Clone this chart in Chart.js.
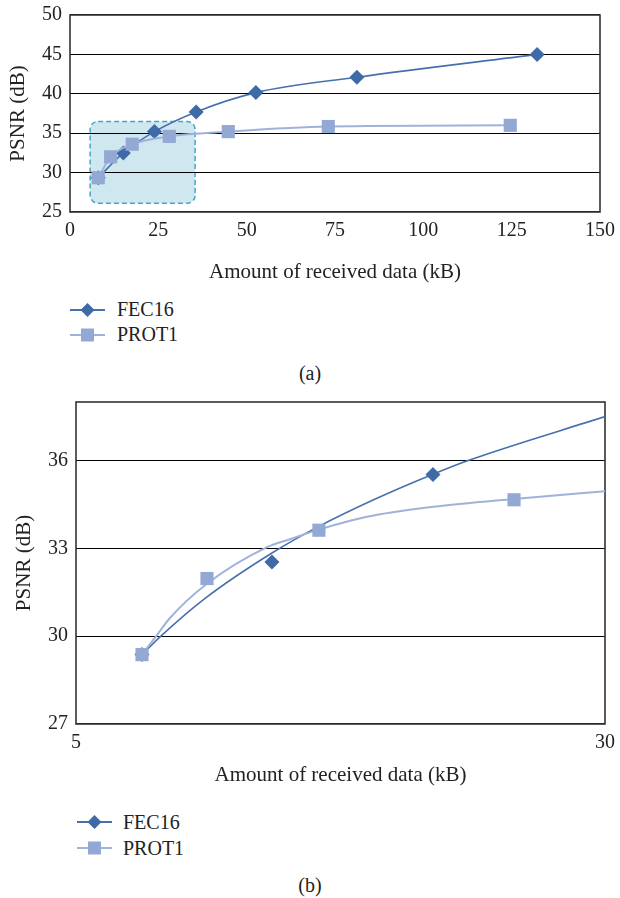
<!DOCTYPE html>
<html>
<head>
<meta charset="utf-8">
<script src="https://cdn.jsdelivr.net/npm/chart.js@4.4.1/dist/chart.umd.min.js"></script>
<style>
  html, body { margin:0; padding:0; background:#fff; }
  #wrap { position:relative; width:620px; height:898px; font-family:'Liberation Serif', serif; color:#222; }
  .box { position:absolute; left:0; width:620px; }
  .legend { position:absolute; font-size:20px; }
  .row { display:flex; align-items:center; height:25px; }
  .row svg { display:block; }
  .cap { position:absolute; left:0; width:620px; text-align:center; font-size:20px; height:24px; line-height:24px; }
</style>
</head>
<body>
<div id="wrap">
  <div class="box" style="top:0;height:289px;"><canvas id="c1"></canvas></div>
  <div class="legend" id="lg1" style="left:70px;top:297px;"></div>
  <div class="cap" style="top:361px;">(a)</div>
  <div class="box" style="top:390px;height:402px;"><canvas id="c2"></canvas></div>
  <div class="legend" id="lg2" style="left:77px;top:809px;"></div>
  <div class="cap" style="top:873px;">(b)</div>
</div>
<script>
// ---------- DATA ----------
const seriesNames = ['FEC16', 'PROT1'];
// panel (a): full range
const fecX  = [8.0, 15.1, 23.9, 35.7, 52.6, 81.2, 132.2];
const fecY  = [29.35, 32.5, 35.2, 37.7, 40.15, 42.1, 45.0];
const protX = [8.0, 11.5, 17.6, 28.1, 44.8, 73.1, 124.6];
const protY = [29.35, 32.0, 33.6, 34.6, 35.2, 35.85, 36.0];
const aTicksX = [0, 25, 50, 75, 100, 125, 150];
const aTicksY = [25, 30, 35, 40, 45, 50];
// panel (b): zoomed region, markers as read against its own axes
const zFecX  = [8.12, 14.26, 21.87];
const zFecY  = [29.37, 32.53, 35.52];
const zProtX = [8.12, 11.19, 16.48, 25.7];
const zProtY = [29.37, 31.97, 33.62, 34.66];
// panel (b): fitted curves
const zFecCurveX  = [8.12, 9.01, 11.1, 14.26, 16.48, 19.04, 21.87, 23.53, 30];
const zFecCurveY  = [29.37, 30.0, 31.29, 32.84, 33.75, 34.65, 35.53, 36.0, 37.5];
const zProtCurveX = [8.12, 8.79, 9.44, 11.19, 14.03, 15.11, 16.48, 18.75, 21.87, 25.7, 30];
const zProtCurveY = [29.37, 30.0, 30.62, 31.79, 33.04, 33.31, 33.64, 34.08, 34.42, 34.69, 34.95];
const bTicksX = [5, 30];
const bTicksY = [27, 30, 33, 36];

// ---------- STYLE ----------
const DARK = '#3e6aa6', DARK_LINE = '#4571ae';
const LIGHT = '#93a8d3', LIGHT_LINE = '#9fb3da';
const FONT = "'Liberation Serif', serif";
const TXT = '#222';

Chart.defaults.font.family = FONT;
Chart.defaults.animation = false;

const pts = (xs, ys) => xs.map((x, i) => ({x: x, y: ys[i]}));

function roundRectPath(ctx, x, y, w, h, r) {
  ctx.beginPath();
  ctx.moveTo(x + r, y);
  ctx.lineTo(x + w - r, y);
  ctx.arcTo(x + w, y, x + w, y + r, r);
  ctx.lineTo(x + w, y + h - r);
  ctx.arcTo(x + w, y + h, x + w - r, y + h, r);
  ctx.lineTo(x + r, y + h);
  ctx.arcTo(x, y + h, x, y + h - r, r);
  ctx.lineTo(x, y + r);
  ctx.arcTo(x, y, x + r, y, r);
  ctx.closePath();
}

const framePlugin = {
  id: 'frame',
  beforeDraw(chart, args, opts) {
    const hb = opts.highlight;
    if (!hb) return;
    const {x, y} = chart.scales;
    const ctx = chart.ctx;
    const l = x.getPixelForValue(hb.x0), r = x.getPixelForValue(hb.x1);
    const t = y.getPixelForValue(hb.y1), b = y.getPixelForValue(hb.y0);
    ctx.save();
    roundRectPath(ctx, l, t, r - l, b - t, 8);
    ctx.fillStyle = '#cfe7ef';
    ctx.fill();
    ctx.setLineDash([5, 3]);
    ctx.lineWidth = 1.5;
    ctx.strokeStyle = '#4aa5c2';
    ctx.stroke();
    ctx.restore();
  },
  beforeDatasetsDraw(chart) {
    const a = chart.chartArea, ctx = chart.ctx;
    ctx.save();
    ctx.lineWidth = 1.6;
    ctx.strokeStyle = '#333';
    ctx.strokeRect(a.left, a.top, a.right - a.left, a.bottom - a.top);
    ctx.restore();
  }
};

function axes(o) {
  return {
    x: {
      type: 'linear', min: o.xTicks[0], max: o.xTicks[o.xTicks.length - 1],
      afterBuildTicks: s => { s.ticks = o.xTicks.map(v => ({value: v})); },
      afterFit: s => { s.height = o.xH; s.paddingLeft = 0; s.paddingRight = 0; },
      grid: {display: false, drawTicks: false},
      border: {display: false},
      ticks: {font: {size: 20}, color: TXT, padding: 7, maxRotation: 0, autoSkip: false},
      title: {display: true, text: 'Amount of received data (kB)', font: {size: 21}, color: TXT, padding: {top: 0, bottom: 4}}
    },
    y: {
      type: 'linear', min: o.yMin, max: o.yMax,
      afterBuildTicks: s => { s.ticks = o.yTicks.map(v => ({value: v})); },
      afterFit: s => { s.width = o.yW; s.paddingTop = 0; s.paddingBottom = 0; },
      grid: {color: '#000', lineWidth: 1.1, drawTicks: false},
      border: {display: false},
      ticks: {font: {size: 20}, color: TXT, padding: 8, autoSkip: false},
      title: {display: true, text: 'PSNR (dB)', font: {size: 21}, color: TXT, padding: {top: o.yTitlePad, bottom: 0}}
    }
  };
}

const commonPlugins = {legend: {display: false}, tooltip: {enabled: false}};

// ---------- PANEL (a) ----------
new Chart(document.getElementById('c1'), {
  type: 'scatter',
  data: {
    datasets: [
      {label: seriesNames[1], data: pts(protX, protY), showLine: true, cubicInterpolationMode: 'monotone',
       borderColor: LIGHT_LINE, borderWidth: 2, pointStyle: 'rect', pointRadius: 9.3,
       pointBackgroundColor: LIGHT, pointBorderColor: LIGHT, pointBorderWidth: 0},
      {label: seriesNames[0], data: pts(fecX, fecY), showLine: true, cubicInterpolationMode: 'monotone',
       borderColor: DARK_LINE, borderWidth: 1.6, pointStyle: 'rectRot', pointRadius: 7.5,
       pointBackgroundColor: DARK, pointBorderColor: DARK, pointBorderWidth: 0}
    ]
  },
  options: {
    responsive: true, maintainAspectRatio: false,
    layout: {padding: {top: 15, right: 20, left: 0, bottom: 0}},
    scales: axes({xTicks: aTicksX, yTicks: aTicksY, yMin: 25, yMax: 50, xH: 77, yW: 70, yTitlePad: 6}),
    plugins: Object.assign({frame: {highlight: {x0: 5.7, x1: 35.4, y0: 26.1, y1: 36.5}}}, commonPlugins)
  },
  plugins: [framePlugin]
});

// ---------- PANEL (b) ----------
new Chart(document.getElementById('c2'), {
  type: 'scatter',
  data: {
    datasets: [
      {label: seriesNames[1], data: pts(zProtX, zProtY), showLine: false, pointStyle: 'rect', pointRadius: 9.3,
       pointBackgroundColor: LIGHT, pointBorderColor: LIGHT, pointBorderWidth: 0},
      {label: seriesNames[0], data: pts(zFecX, zFecY), showLine: false, pointStyle: 'rectRot', pointRadius: 7.5,
       pointBackgroundColor: DARK, pointBorderColor: DARK, pointBorderWidth: 0},
      {label: seriesNames[1] + ' curve', data: pts(zProtCurveX, zProtCurveY), showLine: true, cubicInterpolationMode: 'monotone',
       borderColor: LIGHT_LINE, borderWidth: 2, pointRadius: 0},
      {label: seriesNames[0] + ' curve', data: pts(zFecCurveX, zFecCurveY), showLine: true, cubicInterpolationMode: 'monotone',
       borderColor: DARK_LINE, borderWidth: 1.6, pointRadius: 0}
    ]
  },
  options: {
    responsive: true, maintainAspectRatio: false,
    layout: {padding: {top: 12, right: 15, left: 0, bottom: 0}},
    scales: axes({xTicks: bTicksX, yTicks: bTicksY, yMin: 27, yMax: 38, xH: 68, yW: 76, yTitlePad: 12}),
    plugins: Object.assign({frame: {}}, commonPlugins)
  },
  plugins: [framePlugin]
});

// ---------- LEGENDS (HTML text) ----------
function marker(i) {
  if (i === 0) {
    return '<svg width="35" height="18"><line x1="0" y1="9" x2="35" y2="9" stroke="' + DARK_LINE + '" stroke-width="2"/>' +
           '<polygon points="17.5,2 24.5,9 17.5,16 10.5,9" fill="' + DARK + '"/></svg>';
  }
  return '<svg width="35" height="18"><line x1="0" y1="9" x2="35" y2="9" stroke="' + LIGHT_LINE + '" stroke-width="2"/>' +
         '<rect x="11" y="2.5" width="13" height="13" fill="' + LIGHT + '"/></svg>';
}
function buildLegend(id, gap, rowH) {
  const el = document.getElementById(id);
  el.innerHTML = seriesNames.map((n, i) =>
    '<div class="row" style="height:' + rowH + 'px">' + marker(i) +
    '<span style="margin-left:' + gap + 'px">' + n + '</span></div>').join('');
}
buildLegend('lg1', 12, 25);
buildLegend('lg2', 11, 26);
</script>
</body>
</html>
